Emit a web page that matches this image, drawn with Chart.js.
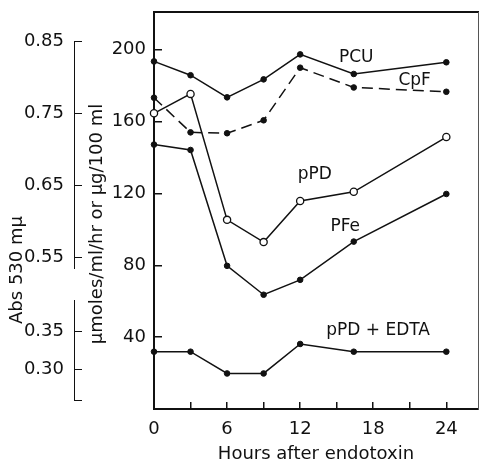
<!DOCTYPE html>
<html>
<head>
<meta charset="utf-8">
<script src="https://cdn.jsdelivr.net/npm/chart.js@4.4.1/dist/chart.umd.min.js"></script>
<style>
  html, body { margin: 0; padding: 0; background: #fff; }
  #wrap { width: 479px; height: 462px; }
</style>
</head>
<body>
<div id="wrap"><canvas id="chart"></canvas></div>
<script>
// values
const hours = [0, 3, 6, 9, 12, 16.4, 24];
const pcu = [193.5, 185.8, 173.5, 183.5, 197.4, 186.5, 193];
const cpf = [173.3, 154, 153.5, 160.7, 190, 179, 176.6];
const ppd = [164.6, 175.4, 105.3, 92.9, 115.8, 120.9, 151.4];
const pfe = [147.2, 144.2, 79.7, 63.6, 71.9, 93.2, 119.7];
const ppdEdta = [31.9, 31.9, 19.8, 19.8, 36.2, 31.9, 31.9];

const xTicks = [0, 3, 6, 9, 12, 15, 18, 21, 24];
const yTicks = [40, 80, 120, 160, 200];
const absTicksHigh = [0.55, 0.60, 0.65, 0.70, 0.75, 0.80, 0.85];
const absTicksLow = [0.30, 0.35];

// curve names and where they are written (data units)
const curveNames = ['PCU', 'CpF', 'pPD', 'PFe', 'pPD + EDTA'];
const nameHours = [16.6, 21.4, 13.2, 15.7, 18.4];
const nameValues = [195.9, 183.1, 130.3, 101.4, 43.6];

const ink = '#111';
const FAMILY = '"DejaVu Sans", sans-serif';
const tickFont = { family: FAMILY, size: 18 };

function pts(ys) {
    return hours.map((h, i) => ({ x: h, y: ys[i] }));
}

// fix a scale's box size and drop the label overhang padding
function sized(w, h) {
    return s => {
        if (w !== null) s.width = w;
        if (h !== null) s.height = h;
        s.paddingTop = 0; s.paddingBottom = 0; s.paddingLeft = 0; s.paddingRight = 0;
    };
}

function spacer(weight, stackWeight) {
    return {
        type: 'linear', position: 'left', stack: 'abs', stackWeight: stackWeight, weight: weight,
        border: { display: false }, grid: { display: false }, ticks: { display: false },
        afterFit: sized(74, null)
    };
}

// plugin: curve names next to the lines, and the two y titles
const writing = {
    id: 'writing',
    afterDraw(chart) {
        const ctx = chart.ctx;
        const xs = chart.scales.x, ys = chart.scales.y, hi = chart.scales.absHigh;
        ctx.save();
        ctx.fillStyle = ink;
        ctx.textAlign = 'center';
        ctx.textBaseline = 'middle';
        ctx.font = '17px ' + FAMILY;
        curveNames.forEach((name, i) => {
            ctx.fillText(name, xs.getPixelForValue(nameHours[i]), ys.getPixelForValue(nameValues[i]));
        });

        ctx.font = '18px ' + FAMILY;
        ctx.save();
        ctx.translate(hi.left + 17, hi.bottom + 2);
        ctx.rotate(-Math.PI / 2);
        ctx.fillText('Abs 530 m\u03bc', 0, 0);
        ctx.restore();

        ctx.save();
        ctx.translate(ys.left + 23, ys.getPixelForValue(103));
        ctx.rotate(-Math.PI / 2);
        ctx.fillText('\u03bcmoles/ml/hr or \u03bcg/100 ml', 0, 0);
        ctx.restore();
        ctx.restore();
    }
};

const dot = { pointRadius: 2.8, pointBackgroundColor: ink, pointBorderColor: ink, pointBorderWidth: 1 };
const onAxes = { xAxisID: 'x', yAxisID: 'y', borderColor: ink, borderWidth: 1.5 };

new Chart(document.getElementById('chart').getContext('2d'), {
    type: 'line',
    data: {
        datasets: [
            Object.assign({ label: 'PCU', data: pts(pcu) }, onAxes, dot),
            Object.assign({ label: 'CpF', data: pts(cpf), borderDash: [11, 6] }, onAxes, dot),
            Object.assign({ label: 'pPD', data: pts(ppd), pointRadius: 3.6, pointBackgroundColor: '#fff',
                            pointBorderColor: ink, pointBorderWidth: 1.3 }, onAxes),
            Object.assign({ label: 'PFe', data: pts(pfe) }, onAxes, dot),
            Object.assign({ label: 'pPD + EDTA', data: pts(ppdEdta) }, onAxes, dot)
        ]
    },
    options: {
        responsive: true,
        maintainAspectRatio: false,
        animation: false,
        layout: { autoPadding: false, padding: { top: 12, right: 1, left: 0, bottom: 0 } },
        datasets: { line: { clip: false, tension: 0 } },
        plugins: { legend: { display: false }, tooltip: { enabled: false } },
        scales: {
            x: {
                type: 'linear', position: 'bottom', min: 0, max: 26.6,
                border: { color: ink, width: 2 },
                grid: { drawOnChartArea: false, tickLength: -7, color: ink, lineWidth: 1.5 },
                afterBuildTicks: s => { s.ticks = xTicks.map(v => ({ value: v })); },
                ticks: { padding: 17, color: ink, font: tickFont, autoSkip: false, maxRotation: 0,
                         callback: v => (v % 6 === 0 ? String(v) : '') },
                title: { display: true, text: 'Hours after endotoxin', color: ink, font: tickFont,
                         padding: { top: 0, bottom: -3 } },
                afterFit: sized(null, 53)
            },
            y: {
                type: 'linear', position: 'left', weight: 0, min: 0, max: 221,
                border: { color: ink, width: 2 },
                grid: { drawOnChartArea: false, tickLength: -8, color: ink, lineWidth: 1.5 },
                afterBuildTicks: s => { s.ticks = yTicks.map(v => ({ value: v })); },
                ticks: { padding: 16, color: ink, font: tickFont },
                afterFit: sized(80, null)
            },
            xTop: {
                type: 'linear', position: 'top', min: 0, max: 1,
                border: { color: ink, width: 2 }, grid: { display: false }, ticks: { display: false },
                afterFit: sized(null, 0)
            },
            yRight: {
                type: 'linear', position: 'right', min: 0, max: 1,
                border: { color: '#555', width: 1 }, grid: { display: false }, ticks: { display: false },
                afterFit: sized(0, null)
            },
            absTop: spacer(5, 29),
            absHigh: {
                type: 'linear', position: 'left', stack: 'abs', stackWeight: 227, weight: 4,
                min: 0.5352, max: 0.85,
                border: { color: ink, width: 1 },
                grid: { drawOnChartArea: false, tickLength: -8, color: ink, lineWidth: 1 },
                afterBuildTicks: s => { s.ticks = absTicksHigh.map(v => ({ value: v })); },
                ticks: { padding: 18, color: ink, font: tickFont, callback: v => v.toFixed(2) },
                afterFit: sized(74, null)
            },
            absGap: spacer(3, 32),
            absLow: {
                type: 'linear', position: 'left', stack: 'abs', stackWeight: 100, weight: 2,
                min: 0.2599, max: 0.3905,
                border: { color: ink, width: 1 },
                grid: { drawOnChartArea: false, tickLength: -8, color: ink, lineWidth: 1 },
                afterBuildTicks: s => { s.ticks = [0.2599].concat(absTicksLow).map(v => ({ value: v })); },
                ticks: { padding: 18, color: ink, font: tickFont, callback: v => (v < 0.29 ? '' : v.toFixed(2)) },
                afterFit: sized(74, null)
            },
            absFoot: spacer(1, 9)
        }
    },
    plugins: [writing]
});
</script>
</body>
</html>
